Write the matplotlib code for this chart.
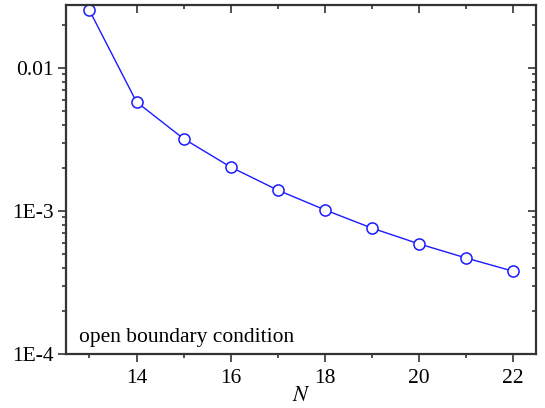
import matplotlib
matplotlib.use("Agg")
import matplotlib.pyplot as plt
from matplotlib.ticker import FixedLocator, LogLocator, NullFormatter

# values
N = [13, 14, 15, 16, 17, 18, 19, 20, 21, 22]
err = [0.0252, 0.00578, 0.00320, 0.00203, 0.00140, 0.00102, 0.00076, 0.00059, 0.00047, 0.00038]
ytick_vals = [1e-4, 1e-3, 1e-2]
ytick_labels = ["1E-4", "1E-3", "0.01"]
xtick_vals = [14, 16, 18, 20, 22]
note = "open boundary condition"

plt.rcParams['font.family'] = ['Liberation Serif', 'DejaVu Serif']
plt.rcParams['mathtext.fontset'] = 'stix'

fig = plt.figure(figsize=(5.45, 4.08), dpi=100)
ax = fig.add_axes([0.1211, 0.1324, 0.8624, 0.8553])

ax.plot(N, err, color='#1a1aff', lw=1.0, marker='o', markersize=8,
        markerfacecolor='white', markeredgecolor='#1a1aff', markeredgewidth=1.1)

ax.set_yscale('log')
ax.set_xlim(12.5, 22.5)
ax.set_ylim(1e-4, 0.0275)

ax.yaxis.set_major_locator(FixedLocator(ytick_vals))
ax.set_yticklabels(ytick_labels)
ax.yaxis.set_minor_locator(LogLocator(base=10, subs=range(2, 10)))
ax.yaxis.set_minor_formatter(NullFormatter())

ax.set_xticks(xtick_vals)
ax.set_xticks([13, 15, 17, 19, 21], minor=True)

for s in ax.spines.values():
    s.set_linewidth(1.6)
    s.set_color('#333333')

# left/bottom ticks point out, mirrored ticks point in (same direction)
ax.tick_params(axis='both', which='both', labelsize=15.5, width=1.2, color='#333333')
ax.tick_params(which='major', length=6)
ax.tick_params(which='minor', length=3.2)
ax.tick_params(axis='x', which='both', direction='out', top=False)
ax.tick_params(axis='y', which='both', direction='out', right=False)
ax.tick_params(axis='x', pad=5)
ax.tick_params(axis='y', pad=3)

top = ax.secondary_xaxis('top')
top.set_xticks(xtick_vals)
top.set_xticks([13, 15, 17, 19, 21], minor=True)
top.tick_params(which='both', direction='in', labeltop=False, width=1.2, color='#333333')
top.tick_params(which='major', length=6)
top.tick_params(which='minor', length=3.2)
top.spines['top'].set_visible(False)

right = ax.secondary_yaxis('right')
right.yaxis.set_major_locator(FixedLocator(ytick_vals))
right.yaxis.set_minor_locator(LogLocator(base=10, subs=range(2, 10)))
right.yaxis.set_minor_formatter(NullFormatter())
right.tick_params(which='both', direction='in', labelright=False, width=1.2, color='#333333')
right.tick_params(which='major', length=6)
right.tick_params(which='minor', length=3.2)
right.spines['right'].set_visible(False)

ax.set_xlabel("$N$", fontsize=16, labelpad=-1)
ax.text(0.028, 0.034, note, transform=ax.transAxes, fontsize=15.5, ha='left', va='baseline')

fig.savefig("out.png", dpi=100)
